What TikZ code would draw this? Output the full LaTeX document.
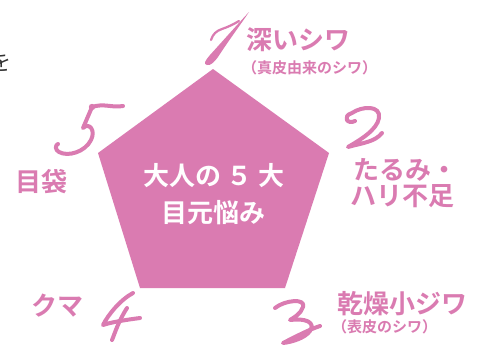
\documentclass[tikz,border=0pt]{standalone}
\usepackage{fontspec}
\newfontfamily\jpb{Noto Sans CJK JP Bold}
\newfontfamily\jp{Noto Sans CJK JP}
\definecolor{pk}{HTML}{DA7BB1}
\definecolor{ink}{HTML}{333333}
\tikzset{
  lbl/.style={text=pk, inner sep=0pt, anchor=west, font=\jpb\fontsize{26}{26}\selectfont},
  sub/.style={text=pk, inner sep=0pt, anchor=west, font=\jpb\fontsize{15}{15}\selectfont},
  ctr/.style={text=white, inner sep=0pt, font=\jpb\fontsize{26}{26}\selectfont},
  num/.style={draw=pk, line width=4pt, line cap=round, line join=round},
  thin/.style={draw=pk, line width=2.2pt, line cap=round}
}
\begin{document}
\begin{tikzpicture}[x=1pt,y=-1pt]
\useasboundingbox (0,0) rectangle (477,349);
\fill[white] (0,0) rectangle (477,349);
% pentagon
\fill[pk] (213,69) -- (329,153) -- (285,288) -- (140,288) -- (98,153) -- cycle;
\node[ctr] (c1) at (214,176) {大人の ５ 大};
\node[ctr] (c2) at (213,213) {目元悩み};
% cropped character at left edge
\node[text=ink, inner sep=0pt, font=\jp\fontsize{22}{22}\selectfont] (wo) at (1,62) {を};
% labels
\node[lbl] (l1) at (246,40) {深いシワ};
\node[sub] (l1s) at (242,68) {（真皮由来のシワ）};
\node[lbl] (l2a) at (353,170) {たるみ・};
\node[lbl] (l2b) at (350,196) {ハリ不足};
\node[lbl] (l5) at (15,182) {目袋};
\node[lbl] (l4) at (31,306) {クマ};
\node[lbl] (l3) at (337,304) {乾燥小ジワ};
\node[sub] (l3s) at (332,327) {（表皮のシワ）};
% numeral 1
\fill[pk] (249,12) .. controls (236,26) and (220,44) .. (210,55)
  .. controls (205,61) and (203,64) .. (207,65)
  .. controls (211,66) and (215,61) .. (218,57)
  .. controls (229,40) and (241,24) .. (249,12) -- cycle;
\draw[thin] (211,40) .. controls (213,34) and (216,31) .. (222,29) .. controls (228,27) and (234,24) .. (239,21);
% numeral 2
\draw[num] (355,121) .. controls (347,125) and (342,116) .. (352,113)
  .. controls (362,106) and (381,105) .. (379,118)
  .. controls (377,130) and (360,140) .. (348,147)
  .. controls (362,143) and (375,142) .. (382,133);
% numeral 5
\draw[num] (123,106) .. controls (112,108) and (104,103) .. (92,107)
  -- (83,128)
  .. controls (89,122) and (96,130) .. (91,140)
  .. controls (85,152) and (68,157) .. (59,152)
  .. controls (55,150) and (55,145) .. (58,144);
\fill[pk] (92,107) circle (3.2);
% numeral 4
\draw[num] (133,293) .. controls (120,300) and (108,315) .. (103,325)
  .. controls (112,322) and (125,320) .. (140,318);
\draw[num] (127,308) .. controls (118,322) and (115,333) .. (112,340);
% numeral 3
\draw[num] (275,308) .. controls (285,300) and (306,298) .. (303,307)
  .. controls (301,314) and (293,318) .. (290,320)
  .. controls (305,318) and (316,322) .. (310,331)
  .. controls (305,338) and (292,342) .. (283,343)
  .. controls (295,337) and (308,330) .. (320,326);
\end{tikzpicture}
\end{document}
